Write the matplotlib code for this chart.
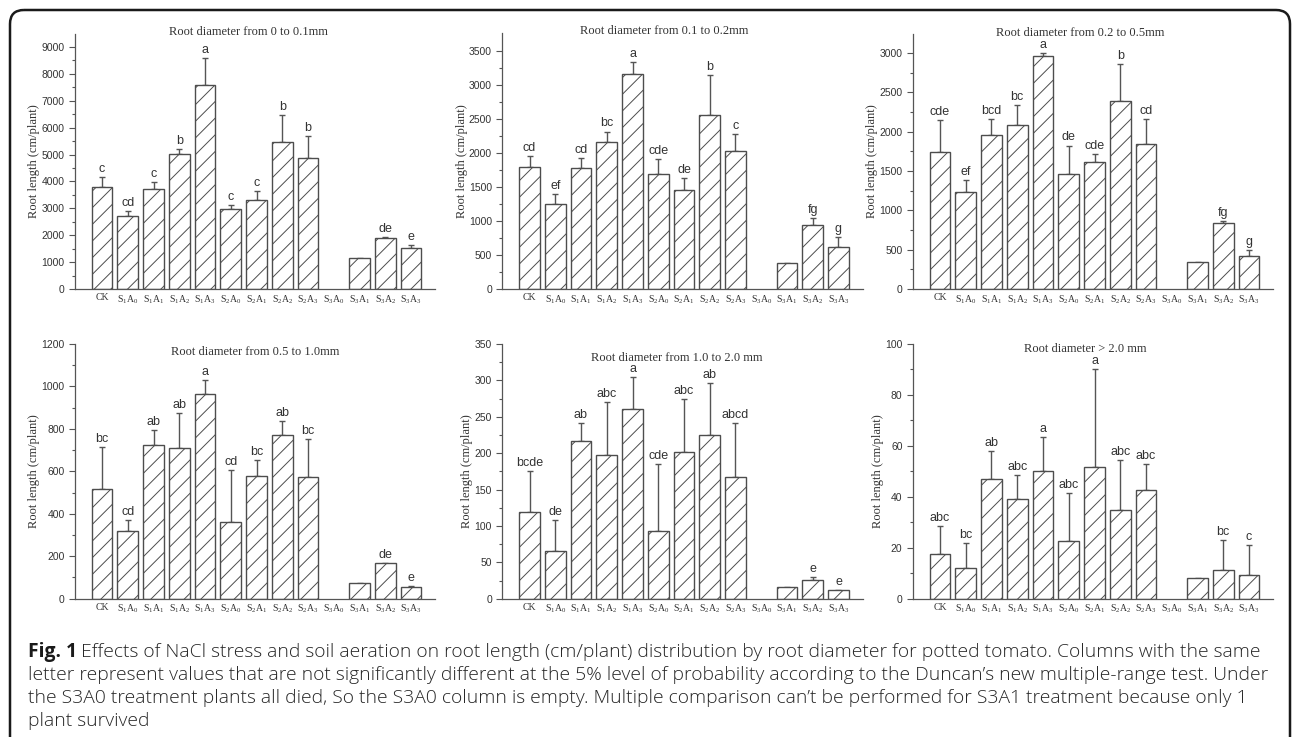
import numpy as np
import matplotlib.pyplot as plt
from matplotlib.patches import FancyBboxPatch

plt.rcParams['mathtext.fontset'] = 'custom'
plt.rcParams['mathtext.rm'] = 'Liberation Serif'
plt.rcParams['mathtext.it'] = 'Liberation Serif:italic'
plt.rcParams['hatch.linewidth'] = 0.7

treatments = ['CK', 'S$_1$A$_0$', 'S$_1$A$_1$', 'S$_1$A$_2$', 'S$_1$A$_3$',
              'S$_2$A$_0$', 'S$_2$A$_1$', 'S$_2$A$_2$', 'S$_2$A$_3$',
              'S$_3$A$_0$', 'S$_3$A$_1$', 'S$_3$A$_2$', 'S$_3$A$_3$']
nan = np.nan

# root diameter 0 - 0.1 mm
len_a = [3810, 2710, 3710, 5020, 7570, 2970, 3310, 5450, 4860, nan, 1140, 1890, 1530]
err_a = [345, 200, 270, 170, 1025, 160, 320, 1025, 830, nan, nan, 25, 110]
let_a = ['c', 'cd', 'c', 'b', 'a', 'c', 'c', 'b', 'b', '', '', 'de', 'e']

# root diameter 0.1 - 0.2 mm
len_b = [1787, 1249, 1778, 2155, 3154, 1689, 1459, 2556, 2027, nan, 377, 945, 622]
err_b = [167, 147, 147, 156, 181, 216, 172, 588, 250, nan, nan, 98, 142]
let_b = ['cd', 'ef', 'cd', 'bc', 'a', 'cde', 'de', 'b', 'c', '', '', 'fg', 'g']

# root diameter 0.2 - 0.5 mm
len_c = [1740, 1239, 1961, 2084, 2958, 1460, 1613, 2390, 1842, nan, 340, 840, 424]
err_c = [412, 149, 204, 255, 39, 365, 106, 475, 318, nan, nan, 30, 73]
let_c = ['cde', 'ef', 'bcd', 'bc', 'a', 'de', 'cde', 'b', 'cd', '', '', 'fg', 'g']

# root diameter 0.5 - 1.0 mm
len_d = [518, 317, 723, 709, 963, 363, 577, 770, 572, nan, 74, 170, 57]
err_d = [195, 52, 72, 164, 66, 245, 75, 66, 181, nan, nan, nan, 4]
let_d = ['bc', 'cd', 'ab', 'ab', 'a', 'cd', 'bc', 'ab', 'bc', '', '', 'de', 'e']

# root diameter 1.0 - 2.0 mm
len_e = [119.6, 66, 217, 198, 261, 93, 201, 225, 167, nan, 15.6, 25.2, 11.5]
err_e = [56.4, 42.6, 25, 72, 43, 92, 73, 71, 74, nan, nan, 5, nan]
let_e = ['bcde', 'de', 'ab', 'abc', 'a', 'cde', 'abc', 'ab', 'abcd', '', '', 'e', 'e']

# root diameter > 2.0 mm
len_f = [17.4, 12.0, 46.9, 39.1, 50.1, 22.6, 51.8, 34.9, 42.7, nan, 8.0, 11.1, 9.3]
err_f = [11.1, 10.0, 11.0, 9.6, 13.5, 18.8, 38.5, 19.4, 10.0, nan, nan, 11.9, 11.6]
let_f = ['abc', 'bc', 'ab', 'abc', 'a', 'abc', 'a', 'abc', 'abc', '', '', 'bc', 'c']

titles = ['Root diameter from 0 to 0.1mm', 'Root diameter from 0.1 to 0.2mm',
          'Root diameter from 0.2 to 0.5mm', 'Root diameter from 0.5 to 1.0mm',
          'Root diameter from 1.0 to 2.0 mm', 'Root diameter > 2.0 mm']

caption_lines = [
    'Effects of NaCl stress and soil aeration on root length (cm/plant) distribution by root diameter for potted tomato. Columns with the same',
    'letter represent values that are not significantly different at the 5% level of probability according to the Duncan\u2019s new multiple-range test. Under',
    'the S3A0 treatment plants all died, So the S3A0 column is empty. Multiple comparison can\u2019t be performed for S3A1 treatment because only 1',
    'plant survived',
]

W, H = 1292, 737
fig = plt.figure(figsize=(W / 100, H / 100), dpi=100)

# overlay in pixel coordinates for the frame and caption
bg = fig.add_axes([0, 0, 1, 1], zorder=-1)
bg.set_xlim(0, W)
bg.set_ylim(H, 0)
bg.axis('off')
bg.add_patch(FancyBboxPatch((10, 10), 1280, 800, boxstyle='round,pad=0,rounding_size=14',
                            fill=False, edgecolor='#1a1a1a', linewidth=1.8))

panels = [
    (len_a, err_a, let_a, 9500, 1000, 500),
    (len_b, err_b, let_b, 3750, 500, 250),
    (len_c, err_c, let_c, 3250, 500, 250),
    (len_d, err_d, let_d, 1200, 200, 100),
    (len_e, err_e, let_e, 350, 50, 25),
    (len_f, err_f, let_f, 100, 20, 10),
]
ck_px = [102, 529.5, 940]
row_px = [(33.5, 289), (344, 598.7)]
title_pos = [(0.48, 1.005), (0.45, 1.01), (0.463, 1.0),
             (0.50, 0.969), (0.484, 0.945), (0.477, 0.98)]
unit = 25.75

x = np.arange(len(treatments))
for k, (vals, errs, lets, ytop, major, minor) in enumerate(panels):
    r, c = divmod(k, 3)
    top, bot = row_px[r]
    left = ck_px[c] - 1.05 * unit
    ax = fig.add_axes([left / W, 1 - bot / H, 14 * unit / W, (bot - top) / H])
    vals = np.array(vals, dtype=float)
    errs = np.array(errs, dtype=float)
    ax.bar(x, vals, width=0.8, facecolor='white', edgecolor='#4d4d4d',
           hatch='//', linewidth=1.0, zorder=2)
    ax.errorbar(x, vals, yerr=[np.zeros_like(vals), errs], fmt='none',
                ecolor='#555555', elinewidth=1.0, capsize=2, capthick=1.0, zorder=1)
    for i, lab in enumerate(lets):
        if not lab:
            continue
        ytxt = vals[i] + (0 if np.isnan(errs[i]) else errs[i])
        ax.annotate(lab, (x[i], ytxt), xytext=(0, 1.5), textcoords='offset points',
                    ha='center', va='bottom', fontsize=9, family='Liberation Sans',
                    color='#333333')
    ax.set_xlim(-1.05, 12.95)
    ax.set_ylim(0, ytop)
    ax.set_xticks(x)
    ax.set_xticklabels(treatments, fontsize=7, family='Liberation Serif', color='#333333')
    ax.set_yticks(np.arange(0, ytop + 1, major))
    ax.set_yticks(np.arange(minor, ytop, major), minor=True)
    ax.tick_params(axis='x', length=0, pad=3)
    ax.tick_params(axis='y', which='major', length=4, width=0.8, labelsize=7.5,
                   colors='#555555', labelcolor='#333333')
    ax.tick_params(axis='y', which='minor', length=2, width=0.8, colors='#555555')
    for lbl in ax.get_yticklabels():
        lbl.set_family('Liberation Sans')
    for s in ['top', 'right']:
        ax.spines[s].set_visible(False)
    for s in ['left', 'bottom']:
        ax.spines[s].set_color('#555555')
        ax.spines[s].set_linewidth(0.9)
    ax.set_ylabel('Root length (cm/plant)', family='Liberation Serif', fontsize=9,
                  color='#333333', labelpad=1)
    tx, ty = title_pos[k]
    ax.text(tx, ty, titles[k], transform=ax.transAxes, ha='center', va='center',
            family='Liberation Serif', fontsize=9, color='#333333')

# caption
cap_y = [652, 675, 698, 721]
cap_size = 13.9
fig_lab = bg.text(28, cap_y[0], 'Fig. 1', fontsize=cap_size, fontweight='bold',
                  family='Open Sans', va='center', color='#1a1a1a')
fig.canvas.draw()
bb = fig_lab.get_window_extent()
for i, line in enumerate(caption_lines):
    x0 = bb.x1 + 4 if i == 0 else 28
    bg.text(x0, cap_y[i], line, fontsize=cap_size, family='Open Sans',
            fontweight='light', va='center', color='#262626')

fig.savefig('out.png', dpi=100)
